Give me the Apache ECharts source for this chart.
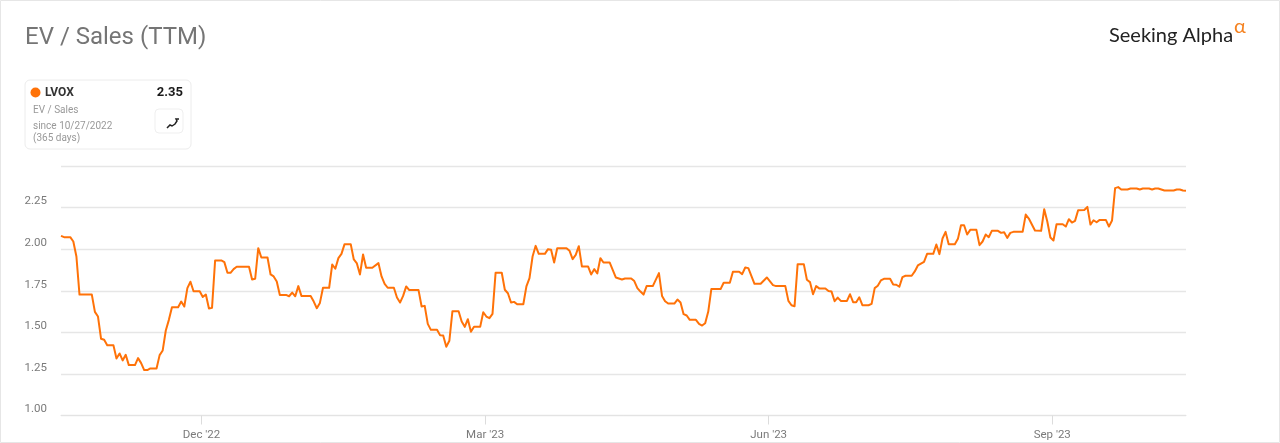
<!DOCTYPE html>
<html><head><meta charset="utf-8">
<style>html,body{margin:0;padding:0;background:#fff}#c{width:1280px;height:443px}</style>
<script src="https://cdn.jsdelivr.net/npm/echarts@6/dist/echarts.min.js"></script>
</head><body><div id="c"></div>
<script>
const dayIndex = [0,1,3,4,5,6,10,11,12,13,14,15,17,18,19,20,21,22,24,25,26,27,28,29,31,32,33,34,35,36,38,39,40,41,42,43,45,46,47,48,49,50,52,53,54,55,56,57,61,62,63,64,65,67,68,69,70,71,73,74,75,76,77,78,81,82,83,84,85,87,88,89,90,91,92,94,95,96,97,98,99,101,103,104,105,106,108,109,110,111,112,113,116,117,118,119,120,122,123,124,125,126,127,129,130,131,132,133,134,136,137,138,139,140,141,143,144,145,146,147,148,150,151,152,153,154,155,157,158,159,160,161,164,165,166,167,168,169,171,172,173,174,175,176,178,179,180,182,183,185,186,187,188,189,190,192,194,195,196,197,199,200,201,202,203,204,206,207,208,209,210,211,214,215,217,218,220,221,222,223,225,227,229,231,232,235,236,237,238,239,241,242,243,244,245,246,248,249,250,251,252,253,255,256,257,258,259,260,262,263,264,265,266,267,269,270,271,272,273,274,276,277,278,280,281,283,284,285,286,287,288,290,291,292,293,294,295,297,298,299,300,301,302,304,305,306,307,308,309,312,313,314,316,318,319,320,321,322,323,325,326,327,328,329,330,332,333,334,335,336,337,339,340,341,342,343,344,346,347,349,350,351,353,354,355,356,357,358,361,362,363,364,365];
const evSales = [2.08,2.072,2.072,2.046,1.956,1.727,1.727,1.623,1.595,1.461,1.455,1.423,1.423,1.343,1.373,1.331,1.365,1.303,1.303,1.345,1.315,1.273,1.273,1.283,1.283,1.363,1.391,1.511,1.575,1.651,1.651,1.685,1.655,1.766,1.804,1.747,1.747,1.713,1.727,1.643,1.647,1.932,1.932,1.922,1.858,1.858,1.88,1.894,1.894,1.818,1.822,2.006,1.95,1.95,1.848,1.836,1.806,1.725,1.725,1.717,1.739,1.717,1.778,1.719,1.719,1.685,1.645,1.677,1.768,1.768,1.908,1.882,1.946,1.972,2.03,2.03,1.938,1.914,1.848,1.968,1.888,1.888,1.916,1.836,1.792,1.768,1.768,1.709,1.679,1.719,1.776,1.754,1.754,1.655,1.659,1.551,1.515,1.515,1.483,1.481,1.413,1.449,1.627,1.627,1.565,1.533,1.579,1.503,1.533,1.533,1.621,1.595,1.585,1.611,1.858,1.858,1.756,1.735,1.679,1.683,1.669,1.669,1.776,1.826,1.956,2.02,1.972,1.972,2.0,1.996,1.92,2.006,2.006,1.99,1.94,1.966,2.018,1.896,1.896,1.848,1.88,1.854,1.946,1.92,1.92,1.876,1.83,1.818,1.824,1.824,1.808,1.766,1.745,1.727,1.778,1.778,1.856,1.719,1.687,1.673,1.673,1.697,1.679,1.609,1.601,1.575,1.575,1.551,1.541,1.555,1.625,1.76,1.76,1.798,1.798,1.864,1.864,1.85,1.89,1.886,1.792,1.792,1.83,1.784,1.778,1.778,1.689,1.663,1.657,1.91,1.91,1.816,1.802,1.729,1.778,1.764,1.764,1.749,1.745,1.687,1.709,1.689,1.689,1.729,1.681,1.681,1.711,1.663,1.663,1.671,1.766,1.78,1.812,1.822,1.822,1.788,1.786,1.774,1.832,1.84,1.84,1.866,1.902,1.924,1.972,1.972,2.028,1.97,2.064,2.104,2.03,2.03,2.062,2.144,2.144,2.088,2.116,2.116,2.024,2.046,2.088,2.072,2.11,2.11,2.098,2.102,2.068,2.098,2.104,2.104,2.208,2.184,2.112,2.11,2.24,2.166,2.07,2.052,2.15,2.15,2.136,2.18,2.16,2.17,2.234,2.236,2.254,2.148,2.174,2.162,2.176,2.176,2.136,2.172,2.367,2.373,2.359,2.359,2.365,2.365,2.359,2.365,2.365,2.359,2.365,2.365,2.359,2.353,2.353,2.359,2.359,2.353,2.351];
const tickPositions = [45.6,137.6,229.6,321.6];
const tickLabels = ["Dec '22","Mar '23","Jun '23","Sep '23"];
const yTicks = [1,1.25,1.5,1.75,2,2.25];

const ORANGE='#ff7208', GRAY='#7a7a7a', FONT='Roboto';
const t=(x,y,text,size,fill,weight,align,extra)=>({type:'text',x,y,silent:true,style:Object.assign({text,fontFamily:FONT,fontSize:size,fill,fontWeight:weight||'normal',align:align||'left',verticalAlign:'middle'},extra||{})});

const chart=echarts.init(document.getElementById('c'),null,{renderer:'canvas'});
chart.setOption({
  animation:false,
  backgroundColor:'#fff',
  grid:{left:61,right:94,top:166,bottom:27.5},
  xAxis:{type:'value',min:0,max:365,splitLine:{show:false},
    axisLine:{show:true,onZero:false,lineStyle:{color:'#e3e3e3',width:1}},
    axisTick:{show:true,customValues:tickPositions,length:9,lineStyle:{color:'#dcdcdc',width:1}},
    axisLabel:{show:true,customValues:tickPositions,margin:14,fontFamily:FONT,fontSize:11.5,color:GRAY,
      formatter:v=>tickLabels[tickPositions.indexOf(v)]||''}},
  yAxis:{type:'value',min:1,max:2.5,interval:0.25,
    axisLine:{show:false},axisTick:{show:false},
    splitLine:{show:true,lineStyle:{color:'#e6e6e6',width:1.4}},
    axisLabel:{margin:14,fontFamily:FONT,fontSize:11.5,color:GRAY,verticalAlign:'bottom',
      formatter:v=>yTicks.includes(v)?v.toFixed(2):''}},
  series:[{type:'line',name:'LVOX',data:dayIndex.map((d,i)=>[d,evSales[i]]),showSymbol:false,
    lineStyle:{color:ORANGE,width:2,join:'round'},itemStyle:{color:ORANGE}}],
  graphic:[
    {type:'rect',shape:{x:0.5,y:0.5,width:1279,height:442},silent:true,style:{fill:'none',stroke:'#e6e6e6',lineWidth:1}},
    t(25,38,'EV / Sales (TTM)',24,'#757575','normal','left',{textShadowBlur:0}),
    {type:'rect',shape:{x:25,y:80,width:166,height:69,r:5},silent:true,style:{fill:'#fff',stroke:'#ececec',lineWidth:1}},
    {type:'circle',shape:{cx:35.5,cy:92.5,r:5},silent:true,style:{fill:ORANGE}},
    t(45,93,'LVOX',12,'#333','bold'),
    t(183,93,'2.35',13,'#1a1a1a','bold','right'),
    t(33,110.5,'EV / Sales',10,'#999'),
    t(33,126,'since 10/27/2022',10,'#999'),
    t(33,138,'(365 days)',10,'#999'),
    {type:'rect',shape:{x:155,y:109,width:28,height:24,r:4},silent:true,style:{fill:'#fff',stroke:'#efefef',lineWidth:1}},
    {type:'polyline',shape:{points:[[167,128],[170,125],[172,126],[175,124],[177,121],[176,119],[179,119]]},silent:true,style:{fill:'none',stroke:'#222',lineWidth:1.5}},
    t(1109,36,'Seeking Alpha',20,'#222','normal','left',{fontFamily:'Lato'}),
    t(1234,27,'α',20,'#f58220','normal','left',{fontFamily:'Lato'})
  ]
});
</script></body></html>
